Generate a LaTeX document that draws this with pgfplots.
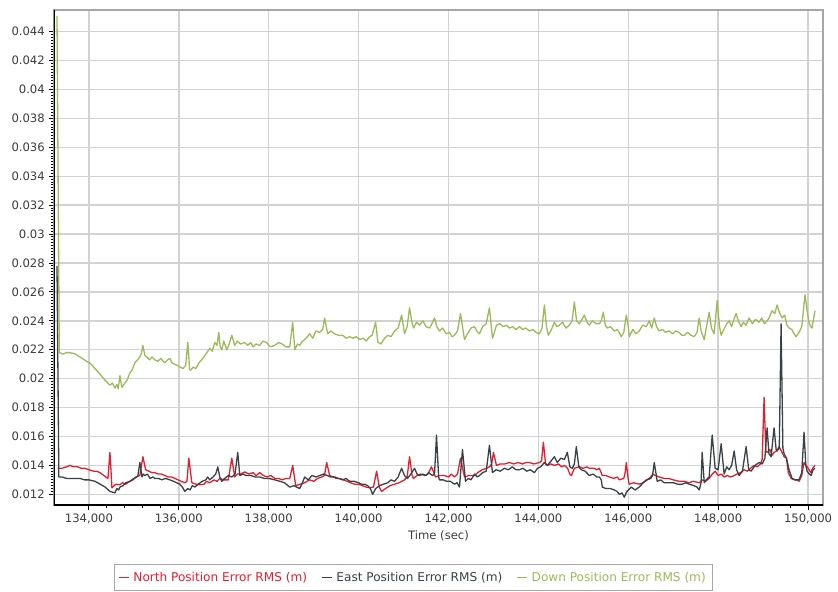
\documentclass[border=0pt]{standalone}
\usepackage{pgfplots}
\pgfplotsset{compat=1.18}
\usepackage{fontspec}
\setmainfont{DejaVu Sans}

\definecolor{northred}{RGB}{228,30,45}
\definecolor{eastgray}{RGB}{55,65,70}
\definecolor{downgreen}{RGB}{155,187,89}
\definecolor{ticktext}{RGB}{60,60,60}

\begin{document}
\fontsize{5.8}{7}\selectfont
\begin{tikzpicture}
\begin{axis}[
    name=ax,
    scale only axis,
    width=384.5pt, height=247.5pt,
    xmin=133222, xmax=150333,
    ymin=0.01126, ymax=0.0455,
    xtick={134000,136000,138000,140000,142000,144000,146000,148000,150000},
    ytick={0.012,0.014,0.016,0.018,0.02,0.022,0.024,0.026,0.028,0.03,0.032,0.034,0.036,0.038,0.04,0.042,0.044},
    minor x tick num=4,
    minor y tick num=9,
    scaled x ticks=false,
    scaled y ticks=false,
    xticklabel style={/pgf/number format/.cd, fixed, precision=0, 1000 sep={,}, assume math mode=true},
    yticklabel style={/pgf/number format/.cd, fixed, precision=3, assume math mode=true},
    ticklabel style={text=ticktext, font=\fontsize{5.8}{7}\selectfont},
    xtick pos=bottom, ytick pos=left,
    tick align=outside,
    major tick length=2.5pt, minor tick length=1.5pt,
    tick style={black, line width=0.5pt},
    grid=major,
    major grid style={draw=gray!35, line width=0.7pt},
    axis line style={draw=gray!70, line width=0.6pt},
    xlabel={Time (sec)},
    xlabel style={at={(axis description cs:0.5,0)}, anchor=center, yshift=-15.5pt, text=ticktext},
    legend columns=3,
    legend style={at={(0.468,-0.1465)}, anchor=center, draw=gray!70, line width=0.5pt,
        font=\fontsize{6.05}{7}\selectfont, inner sep=1.6pt,
        /tikz/every even column/.append style={column sep=5pt}},
    legend image code/.code={\draw[#1, line width=0.7pt] (0pt,0pt) -- (5pt,0pt);},
    every axis plot/.append style={line width=0.65pt, mark=none, line join=round},
]

% North
\addplot[color=northred] coordinates {
(133300,0.0138) (133400,0.0138) (133500,0.0139) (133578,0.0140) (133660,0.0139)
(133750,0.0139) (133830,0.0138) (133911,0.0138) (134000,0.0137) (134100,0.0136)
(134170,0.0136) (134244,0.0135) (134330,0.0133) (134422,0.0131) (134467,0.0149)
(134511,0.01245) (134560,0.0126) (134600,0.0127) (134689,0.01266) (134750,0.0128)
(134820,0.0127) (134911,0.0129) (134980,0.0130) (135050,0.0132) (135133,0.0133)
(135200,0.0146) (135260,0.0137) (135330,0.0136) (135400,0.0135) (135467,0.0135)
(135540,0.0134) (135610,0.0134) (135689,0.0133) (135760,0.0132) (135840,0.0132)
(135911,0.0131) (135980,0.0130) (136050,0.0129) (136133,0.0128) (136180,0.0129)
(136222,0.0145) (136289,0.0128) (136380,0.0127) (136467,0.01266) (136560,0.0127)
(136620,0.0129) (136689,0.0128) (136780,0.0130) (136850,0.0129) (136911,0.0131)
(137000,0.0130) (137100,0.0130) (137178,0.0145) (137244,0.0132) (137300,0.0134)
(137370,0.0134) (137467,0.01355) (137560,0.0134) (137650,0.0135) (137720,0.0133)
(137800,0.0135) (137880,0.0133) (137960,0.0132) (138050,0.0133) (138133,0.0131)
(138220,0.0131) (138300,0.0130) (138380,0.0131) (138467,0.0131) (138533,0.0140)
(138600,0.0126) (138700,0.0127) (138800,0.0128) (138911,0.0130) (139000,0.0129)
(139090,0.0131) (139178,0.0132) (139240,0.0133) (139289,0.0142) (139356,0.0133)
(139440,0.0132) (139500,0.0131) (139578,0.0131) (139660,0.0130) (139750,0.0129)
(139820,0.0128) (139911,0.0127) (140000,0.0127) (140090,0.0126) (140170,0.0125)
(140244,0.01245) (140330,0.0125) (140400,0.0136) (140460,0.0125) (140511,0.0122)
(140600,0.0124) (140700,0.0126) (140800,0.0127) (140900,0.0128) (141022,0.0130)
(141080,0.0132) (141133,0.0146) (141190,0.0133) (141222,0.0131) (141300,0.0133)
(141380,0.0134) (141467,0.0133) (141540,0.0134) (141622,0.0139) (141711,0.0132)
(141800,0.0133) (141911,0.0133) (142000,0.0132) (142060,0.0134) (142133,0.0132)
(142200,0.0134) (142267,0.0145) (142356,0.0132) (142450,0.0133) (142578,0.0133)
(142650,0.0135) (142750,0.0137) (142850,0.0138) (142911,0.0139) (142960,0.0141)
(143000,0.0149) (143067,0.0140) (143150,0.0141) (143250,0.0141) (143356,0.0142)
(143450,0.0141) (143550,0.0142) (143650,0.0141) (143720,0.0142) (143800,0.0142)
(143900,0.0141) (144022,0.0142) (144070,0.0143) (144111,0.0156) (144160,0.0141)
(144200,0.0140) (144280,0.0141) (144356,0.0140) (144450,0.0141) (144520,0.0139)
(144578,0.0140) (144650,0.0138) (144700,0.0134) (144733,0.0133) (144800,0.0138)
(144911,0.0139) (145000,0.0138) (145080,0.0139) (145133,0.0138) (145240,0.0138)
(145300,0.0137) (145356,0.0138) (145422,0.0133) (145500,0.0133) (145578,0.0132)
(145680,0.0131) (145760,0.0132) (145800,0.0130) (145900,0.0131) (145930,0.0135)
(145956,0.0142) (146000,0.0130) (146022,0.0127) (146120,0.0128) (146244,0.0127)
(146330,0.0128) (146400,0.0130) (146467,0.0131) (146550,0.0134) (146600,0.0133)
(146689,0.0132) (146800,0.0131) (146900,0.0131) (147000,0.0130) (147133,0.0129)
(147250,0.0129) (147350,0.0128) (147450,0.0129) (147578,0.0128) (147650,0.0130)
(147720,0.0129) (147800,0.0131) (147870,0.0134) (147933,0.0136) (148000,0.0133)
(148067,0.0134) (148133,0.0132) (148200,0.0133) (148280,0.0132) (148356,0.0133)
(148420,0.0134) (148500,0.0135) (148578,0.0137) (148650,0.0136) (148720,0.0138)
(148800,0.0140) (148870,0.0139) (148940,0.0141) (148978,0.0144) (149022,0.0187)
(149060,0.0150) (149089,0.0149) (149150,0.0151) (149200,0.0147) (149244,0.0149)
(149300,0.0150) (149356,0.0153) (149420,0.0149) (149467,0.0146) (149520,0.0145)
(149560,0.0135) (149622,0.0131) (149700,0.0130) (149760,0.0130) (149800,0.0129)
(149860,0.0133) (149911,0.0142) (149960,0.0140) (150022,0.0137) (150060,0.0135)
(150100,0.0138) (150156,0.0140)
};
\addlegendentry{\textcolor{northred}{North Position Error RMS (m)}}

% East
\addplot[color=eastgray] coordinates {
(133289,0.0278) (133330,0.0132) (133400,0.0132) (133500,0.0131) (133600,0.0131)
(133700,0.0131) (133800,0.0131) (133900,0.0130) (134000,0.0130) (134133,0.0129)
(134250,0.0127) (134360,0.0125) (134467,0.0122) (134578,0.0121) (134620,0.0124)
(134660,0.0123) (134689,0.0125) (134760,0.0126) (134820,0.0128) (134911,0.0129)
(135000,0.0131) (135060,0.0132) (135089,0.0133) (135133,0.0142) (135180,0.0132)
(135210,0.0134) (135244,0.0133) (135300,0.0134) (135360,0.0131) (135420,0.0132)
(135467,0.0131) (135550,0.0131) (135620,0.0130) (135700,0.0131) (135800,0.0130)
(135880,0.0129) (135950,0.0128) (136022,0.0127) (136080,0.0125) (136133,0.0122)
(136200,0.0124) (136250,0.0123) (136300,0.0126) (136356,0.0125) (136430,0.0127)
(136520,0.0129) (136600,0.0130) (136640,0.0132) (136689,0.0130) (136760,0.0132)
(136820,0.0134) (136867,0.0139) (136910,0.0132) (136956,0.0129) (137020,0.0131)
(137100,0.0133) (137180,0.0132) (137250,0.0134) (137311,0.0149) (137356,0.0133)
(137430,0.0134) (137500,0.0133) (137600,0.0133) (137700,0.0132) (137800,0.0132)
(137900,0.0131) (138000,0.0131) (138133,0.0130) (138250,0.0129) (138350,0.0128)
(138467,0.0125) (138560,0.0126) (138689,0.0124) (138750,0.0128) (138800,0.0132)
(138880,0.0130) (138960,0.0133) (139050,0.0132) (139133,0.0133) (139220,0.0134)
(139300,0.0133) (139380,0.0132) (139467,0.0132) (139550,0.0131) (139650,0.0130)
(139720,0.0131) (139800,0.0129) (139900,0.0129) (140000,0.0128) (140060,0.0127)
(140133,0.0127) (140200,0.0126) (140260,0.0124) (140311,0.0120) (140380,0.0124)
(140467,0.0126) (140550,0.0127) (140650,0.0128) (140720,0.0130) (140800,0.0129)
(140880,0.0132) (140956,0.0138) (141020,0.0133) (141089,0.0131) (141160,0.0134)
(141244,0.0138) (141300,0.0134) (141356,0.0133) (141430,0.0134) (141500,0.0133)
(141560,0.0135) (141640,0.0133) (141689,0.0134) (141733,0.0161) (141780,0.0132)
(141800,0.0130) (141880,0.0130) (141960,0.0129) (142040,0.0129) (142133,0.0127)
(142190,0.0128) (142244,0.0125) (142311,0.0151) (142378,0.0129) (142440,0.0131)
(142500,0.0130) (142580,0.0134) (142640,0.0132) (142689,0.0133) (142760,0.0135)
(142840,0.0136) (142911,0.0154) (142978,0.0135) (143060,0.0137) (143150,0.0136)
(143244,0.0138) (143330,0.0137) (143420,0.0139) (143500,0.0137) (143578,0.0137)
(143660,0.0138) (143740,0.0136) (143820,0.0137) (143911,0.0135) (143980,0.0138)
(144050,0.0139) (144133,0.0142) (144200,0.0140) (144280,0.0143) (144356,0.0146)
(144420,0.0142) (144500,0.0145) (144578,0.0144) (144644,0.0149) (144700,0.0139)
(144756,0.0138) (144800,0.0141) (144844,0.0153) (144900,0.0139) (144956,0.0137)
(145040,0.0136) (145133,0.0133) (145220,0.0134) (145300,0.0132) (145356,0.0132)
(145400,0.0130) (145422,0.0125) (145500,0.0124) (145600,0.0124) (145689,0.0123)
(145750,0.0122) (145800,0.0120) (145860,0.0121) (145911,0.0118) (145970,0.0122)
(146067,0.0125) (146150,0.0123) (146244,0.0125) (146330,0.0128) (146422,0.0130)
(146500,0.0131) (146540,0.0133) (146578,0.0142) (146644,0.0129) (146720,0.0130)
(146800,0.0128) (146911,0.0128) (147000,0.0128) (147100,0.0127) (147200,0.0127)
(147280,0.0128) (147356,0.0127) (147460,0.0126) (147530,0.0125) (147578,0.0123)
(147620,0.0128) (147644,0.0149) (147690,0.0128) (147733,0.0130) (147800,0.0132)
(147867,0.0161) (147933,0.0138) (148000,0.0137) (148067,0.0155) (148133,0.0134)
(148190,0.0139) (148244,0.0137) (148300,0.0140) (148356,0.0150) (148410,0.0137)
(148467,0.0133) (148540,0.0136) (148622,0.0153) (148680,0.0137) (148733,0.0136)
(148820,0.0140) (148911,0.0142) (148980,0.0141) (149040,0.0145) (149089,0.0166)
(149130,0.0148) (149178,0.0146) (149244,0.0166) (149290,0.0151) (149311,0.0150)
(149360,0.0152) (149400,0.0238) (149440,0.0152) (149467,0.0148) (149520,0.0145)
(149578,0.0137) (149644,0.0131) (149720,0.0130) (149800,0.0130) (149860,0.0135)
(149911,0.0163) (149950,0.0140) (149978,0.0136) (150030,0.0134) (150067,0.0133)
(150110,0.0137) (150156,0.0138)
};
\addlegendentry{\textcolor{eastgray}{East Position Error RMS (m)}}

% Down
\addplot[color=downgreen] coordinates {
(133289,0.0451) (133340,0.0218) (133422,0.0217) (133500,0.0218) (133578,0.0218)
(133700,0.0217) (133800,0.0215) (133950,0.0212) (134050,0.0210) (134133,0.0207)
(134250,0.0203) (134356,0.0199) (134420,0.0197) (134467,0.01955) (134520,0.0197)
(134578,0.01935) (134620,0.0196) (134650,0.0193) (134689,0.0202) (134733,0.0194)
(134800,0.0197) (134850,0.0199) (134911,0.0204) (134960,0.0206) (135022,0.0211)
(135080,0.0213) (135133,0.0215) (135170,0.0218) (135200,0.0223) (135244,0.0216)
(135289,0.0215) (135350,0.0213) (135400,0.0215) (135467,0.0213) (135530,0.0212)
(135600,0.0214) (135650,0.0212) (135689,0.0211) (135750,0.0213) (135800,0.0214)
(135850,0.0211) (135900,0.0210) (135978,0.0209) (136030,0.0208) (136089,0.0207)
(136150,0.0209) (136200,0.0225) (136240,0.0206) (136267,0.0206) (136320,0.0208)
(136378,0.0207) (136450,0.0211) (136533,0.0214) (136600,0.0217) (136689,0.0221)
(136740,0.0219) (136800,0.0225) (136850,0.0223) (136889,0.0232) (136920,0.0222)
(136956,0.0220) (137000,0.0226) (137067,0.0220) (137120,0.0224) (137178,0.0230)
(137244,0.0223) (137300,0.0226) (137370,0.0224) (137467,0.0225) (137530,0.0223)
(137600,0.0225) (137650,0.0222) (137720,0.0224) (137800,0.0223) (137870,0.0226)
(137950,0.0225) (138040,0.0222) (138133,0.0223) (138220,0.0225) (138300,0.0224)
(138380,0.0222) (138467,0.0222) (138533,0.0239) (138580,0.0220) (138640,0.0224)
(138689,0.0223) (138750,0.0226) (138800,0.0227) (138860,0.0229) (138911,0.0231)
(138980,0.0228) (139050,0.0233) (139133,0.0232) (139200,0.0234) (139244,0.0242)
(139311,0.0231) (139380,0.0233) (139467,0.0231) (139550,0.0230) (139650,0.0230)
(139720,0.0228) (139800,0.0229) (139880,0.0228) (139950,0.0229) (140022,0.0227)
(140100,0.0228) (140170,0.0226) (140244,0.0229) (140300,0.0230) (140378,0.0239)
(140430,0.0225) (140500,0.0224) (140578,0.0228) (140650,0.0230) (140720,0.0229)
(140800,0.0233) (140880,0.0235) (140956,0.0244) (141022,0.0231) (141080,0.0236)
(141133,0.0249) (141180,0.0240) (141222,0.0235) (141290,0.0239) (141356,0.0237)
(141430,0.0240) (141500,0.0236) (141578,0.0235) (141630,0.0238) (141689,0.0242)
(141740,0.0236) (141800,0.0233) (141870,0.0235) (141950,0.0231) (142022,0.0232)
(142080,0.0229) (142133,0.0230) (142200,0.0233) (142267,0.0245) (142356,0.0227)
(142420,0.0231) (142500,0.0235) (142578,0.0236) (142630,0.0233) (142689,0.0231)
(142760,0.0236) (142840,0.0238) (142911,0.0249) (142978,0.0228) (143030,0.0233)
(143067,0.0237) (143140,0.0238) (143220,0.0236) (143290,0.0237) (143356,0.0235)
(143430,0.0236) (143500,0.0234) (143580,0.0236) (143650,0.0234) (143720,0.0235)
(143800,0.0233) (143880,0.0234) (143950,0.0232) (144022,0.0231) (144080,0.0235)
(144133,0.0251) (144180,0.0236) (144222,0.0230) (144290,0.0234) (144356,0.0239)
(144410,0.0236) (144467,0.0237) (144540,0.0239) (144610,0.0235) (144689,0.0237)
(144750,0.0240) (144800,0.0253) (144850,0.0240) (144911,0.0238) (144970,0.0241)
(145022,0.0244) (145080,0.0239) (145133,0.0237) (145200,0.0240) (145280,0.0238)
(145356,0.0238) (145400,0.0240) (145444,0.0246) (145490,0.0237) (145533,0.0235)
(145600,0.0236) (145689,0.0233) (145760,0.0234) (145844,0.0229) (145900,0.0232)
(145956,0.0244) (146000,0.0236) (146022,0.0229) (146100,0.0234) (146170,0.0231)
(146244,0.0233) (146320,0.0237) (146400,0.0236) (146470,0.0240) (146520,0.0235)
(146578,0.0242) (146630,0.0236) (146689,0.0233) (146760,0.0234) (146830,0.0232)
(146911,0.0233) (146990,0.0231) (147060,0.0233) (147133,0.0232) (147190,0.0230)
(147244,0.0230) (147320,0.0232) (147400,0.0230) (147467,0.0229) (147530,0.0232)
(147578,0.0242) (147620,0.0233) (147689,0.0227) (147740,0.0236) (147800,0.0246)
(147850,0.0235) (147911,0.0231) (147978,0.0254) (148030,0.0236) (148067,0.0230)
(148140,0.0235) (148190,0.0238) (148244,0.0240) (148300,0.0236) (148350,0.0241)
(148400,0.0245) (148450,0.0240) (148511,0.0236) (148560,0.0239) (148620,0.0237)
(148689,0.0242) (148760,0.0238) (148830,0.0241) (148911,0.0239) (148970,0.0242)
(149030,0.0238) (149090,0.0240) (149133,0.0242) (149200,0.0247) (149260,0.0245)
(149311,0.0251) (149360,0.0246) (149422,0.0242) (149480,0.0244) (149530,0.0237)
(149578,0.0235) (149640,0.0234) (149690,0.0231) (149733,0.0229) (149800,0.0232)
(149860,0.0236) (149900,0.0248) (149933,0.0258) (149980,0.0247) (150022,0.0239)
(150060,0.0236) (150089,0.0235) (150120,0.0241) (150156,0.0247)
};
\addlegendentry{\textcolor{downgreen}{Down Position Error RMS (m)}}

\draw[black, line width=1.2pt] (rel axis cs:0,1) -- (rel axis cs:0,0) -- (rel axis cs:1,0);
\end{axis}
\pgfresetboundingbox
\path[use as bounding box] ([shift={(-27pt,-43pt)}]ax.south west) rectangle ([shift={(7.5pt,5pt)}]ax.north east);
\end{tikzpicture}
\end{document}
